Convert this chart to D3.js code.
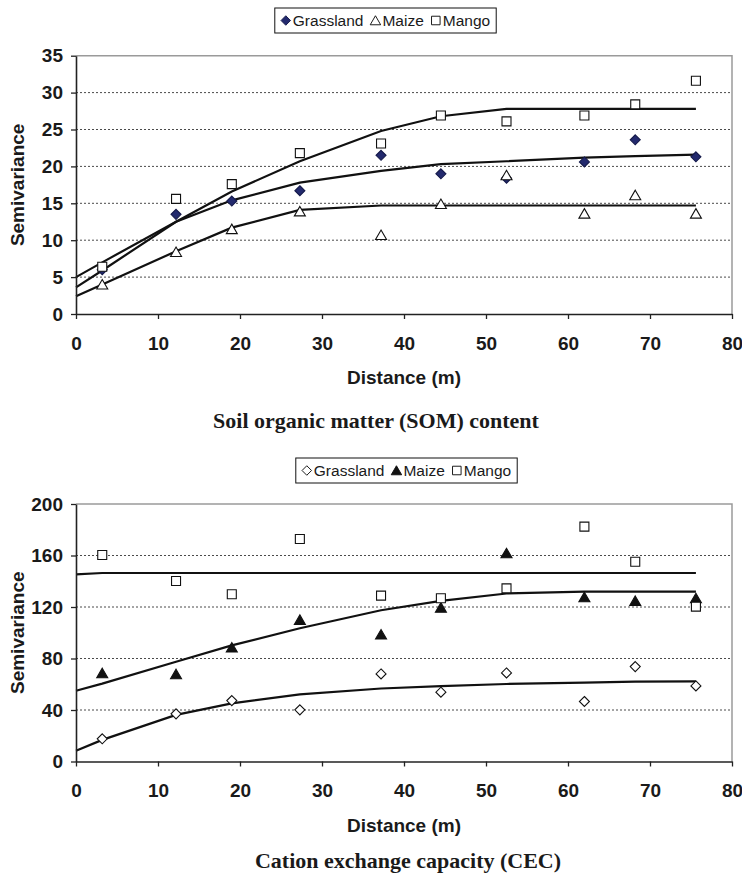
<!DOCTYPE html>
<html>
<head>
<meta charset="utf-8">
<script src="https://cdn.jsdelivr.net/npm/d3@7"></script>
<style>
body { margin: 0; background: #fff; }
svg { display: block; }
text { font-family: "Liberation Sans", Arial, sans-serif; fill: #1a1a1a; }
</style>
</head>
<body>
<div id="wrap"></div>
<script>

// lag distances (m)
var lags = [3.2, 12.2, 19, 27.3, 37.2, 44.5, 52.5, 62, 68.2, 75.6];
var modelLags = [0, 3.2, 12.2, 19, 27.3, 37.2, 44.5, 52.5, 62, 68.2, 75.6];
var xTicks = [0, 10, 20, 30, 40, 50, 60, 70, 80];

// SOM semivariance
var somTicks = [0, 5, 10, 15, 20, 25, 30, 35];
var somGrassland = [6.0, 13.5, 15.3, 16.7, 21.5, 19.0, 18.4, 20.6, 23.6, 21.3];
var somMaize = [4.0, 8.4, 11.5, 13.9, 10.7, 14.9, 18.8, 13.6, 16.1, 13.6];
var somMango = [6.4, 15.6, 17.6, 21.8, 23.1, 26.9, 26.1, 26.9, 28.4, 31.6];
var somGrasslandModel = [3.6, 5.9, 12.5, 15.4, 17.8, 19.4, 20.3, 20.7, 21.2, 21.4, 21.6];
var somMaizeModel = [2.4, 4.0, 8.5, 11.7, 14.1, 14.7, 14.7, 14.7, 14.7, 14.7, 14.7];
var somMangoModel = [5.0, 7.0, 12.5, 16.6, 20.7, 24.8, 26.8, 27.8, 27.8, 27.8, 27.8];

// CEC semivariance
var cecTicks = [0, 40, 80, 120, 160, 200];
var cecGrassland = [17.6, 37.0, 47.3, 40.1, 68.0, 53.8, 68.8, 46.6, 73.7, 58.7];
var cecMaize = [68.6, 67.8, 88.5, 110, 98.6, 119.5, 161.7, 127.6, 124.7, 126.8];
var cecMango = [160.4, 140.2, 129.9, 172.8, 128.8, 126.8, 134.5, 182.4, 155.2, 120.3];
var cecGrasslandModel = [8.3, 16.8, 36.2, 45.2, 52.2, 56.7, 58.6, 60.2, 61.2, 62.0, 62.3];
var cecMaizeModel = [55.0, 60.5, 77.5, 90.2, 103.5, 117.5, 124.8, 130.5, 132.0, 132.0, 132.0];
var cecMangoModel = [145.4, 146.4, 146.4, 146.4, 146.4, 146.4, 146.4, 146.4, 146.4, 146.4, 146.4];

var seriesNames = ["Grassland", "Maize", "Mango"];

var W = 742, H = 873;
var svg = d3.select('#wrap').append("svg").attr("width", W).attr("height", H);

var x = d3.scaleLinear().domain([0, 80]).range([76, 732]);

var markerPath = function(shape) {
    if (shape === "diamond") return "M0,-5L5,0L0,5L-5,0Z";
    if (shape === "triangle") return "M0,-5L5.5,4.5L-5.5,4.5Z";
    return "M-4.5,-4.5H4.5V4.5H-4.5Z";
};

var panel = function(cfg) {

    var g = svg.append("g");
    var y = d3.scaleLinear().domain([0, cfg.ticks[cfg.ticks.length - 1]]).range([cfg.bottom, cfg.top]);

    // grid lines (dotted)
    g.selectAll("line.grid")
        .data(cfg.ticks.slice(1, -1))
        .enter()
        .append("line")
        .attr("class", "grid")
        .attr("x1", x(0)).attr("x2", x(80))
        .attr("y1", function(d) { return y(d); })
        .attr("y2", function(d) { return y(d); })
        .attr("stroke", "#4a4a4a")
        .attr("stroke-width", 1)
        .attr("stroke-dasharray", "2,2");

    // plot area border, top and right
    g.append("path")
        .attr("d", "M" + x(0) + "," + y.range()[1] + "H" + x(80) + "V" + y.range()[0])
        .attr("fill", "none")
        .attr("stroke", "#9a9a9a")
        .attr("stroke-width", 1.5);

    // fitted model lines
    var line = d3.line()
        .x(function(d, i) { return x(modelLags[i]); })
        .y(function(d) { return y(d); });

    g.selectAll("path.model")
        .data(cfg.models)
        .enter()
        .append("path")
        .attr("class", "model")
        .attr("d", line)
        .attr("fill", "none")
        .attr("stroke", "#111")
        .attr("stroke-width", 2.2);

    // observed points
    cfg.series.forEach(function(s) {
        g.selectAll(null)
            .data(s.values)
            .enter()
            .append("path")
            .attr("d", markerPath(s.shape))
            .attr("transform", function(d, i) { return "translate(" + x(lags[i]) + "," + y(d) + ")"; })
            .attr("fill", s.fill)
            .attr("stroke", s.stroke)
            .attr("stroke-width", 1.1);
    });

    // axes
    var ya = g.append("g")
        .attr("transform", "translate(" + x(0) + ",0)")
        .call(d3.axisLeft(y).tickValues(cfg.ticks).tickSize(5).tickSizeOuter(0).tickPadding(8));

    var xa = g.append("g")
        .attr("transform", "translate(0," + cfg.bottom + ")")
        .call(d3.axisBottom(x).tickValues(xTicks).tickSize(5).tickSizeOuter(0).tickPadding(17.5));

    [ya, xa].forEach(function(a) {
        a.select(".domain").attr("stroke", "#222").attr("stroke-width", 1.6);
        a.selectAll(".tick line").attr("stroke", "#222").attr("stroke-width", 1.3);
        a.selectAll(".tick text")
            .attr("fill", "#1a1a1a")
            .style("font-family", '"Liberation Sans", Arial, sans-serif')
            .style("font-size", "19px")
            .style("font-weight", "bold");
    });

    // axis titles
    g.append("text")
        .attr("transform", "translate(24," + ((cfg.top + cfg.bottom) / 2) + ") rotate(-90)")
        .attr("text-anchor", "middle")
        .style("font-size", "19px")
        .style("font-weight", "bold")
        .text("Semivariance");

    g.append("text")
        .attr("x", (x(0) + x(80)) / 2)
        .attr("y", cfg.bottom + 70)
        .attr("text-anchor", "middle")
        .style("font-size", "19px")
        .style("font-weight", "bold")
        .text("Distance (m)");

    g.append("text")
        .attr("x", cfg.captionX)
        .attr("y", cfg.captionY)
        .attr("text-anchor", "middle")
        .style("font-family", '"Liberation Serif", "Times New Roman", serif')
        .style("font-size", "22px")
        .style("font-weight", "bold")
        .text(cfg.caption);

    // legend
    var lg = g.append("g");
    var box = lg.append("rect")
        .attr("fill", "#fff")
        .attr("stroke", "#111")
        .attr("stroke-width", 1);
    var cx = 6, cy = cfg.legendY + 12.5;
    cfg.series.forEach(function(s, i) {
        lg.append("path")
            .attr("d", markerPath(s.shape))
            .attr("transform", "translate(" + (cx + 5) + "," + cy + ") scale(0.95)")
            .attr("fill", s.fill)
            .attr("stroke", s.stroke)
            .attr("stroke-width", 1);
        var t = lg.append("text")
            .attr("x", cx + 12)
            .attr("y", cy + 5.5)
            .style("font-size", "15.5px")
            .text(seriesNames[i]);
        cx += 12 + t.node().getComputedTextLength() + 7;
    });
    var bw = cx - 1;
    box.attr("x", 0).attr("y", cfg.legendY).attr("width", bw).attr("height", 25);
    lg.attr("transform", "translate(" + (cfg.legendCX - bw / 2) + ",0)");

};

panel({
    top: 55.7,
    bottom: 314,
    ticks: somTicks,
    models: [somGrasslandModel, somMaizeModel, somMangoModel],
    series: [
        { values: somGrassland, shape: "diamond", fill: "#232a6e", stroke: "#151a4a" },
        { values: somMaize, shape: "triangle", fill: "#fff", stroke: "#111" },
        { values: somMango, shape: "square", fill: "#fff", stroke: "#111" }
    ],
    caption: "Soil organic matter (SOM) content",
    captionX: 376,
    captionY: 428,
    legendY: 8,
    legendCX: 385.5
});

panel({
    top: 504,
    bottom: 761.5,
    ticks: cecTicks,
    models: [cecGrasslandModel, cecMaizeModel, cecMangoModel],
    series: [
        { values: cecGrassland, shape: "diamond", fill: "#fff", stroke: "#111" },
        { values: cecMaize, shape: "triangle", fill: "#111", stroke: "#111" },
        { values: cecMango, shape: "square", fill: "#fff", stroke: "#111" }
    ],
    caption: "Cation exchange capacity (CEC)",
    captionX: 408,
    captionY: 868,
    legendY: 458,
    legendCX: 406.5
});

</script>
</body>
</html>
